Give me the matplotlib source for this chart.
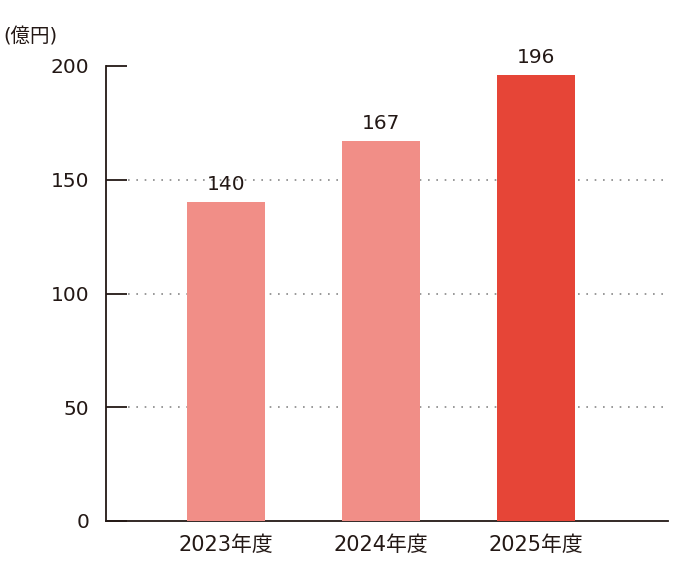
import matplotlib
matplotlib.use('Agg')
import matplotlib.pyplot as plt

# DejaVu for the wide digits, Noto CJK for the kanji
plt.rcParams['font.family'] = ['DejaVu Sans', 'Noto Sans CJK JP']

years = ['2023年度', '2024年度', '2025年度']
sales = [140, 167, 196]
bar_colors = ['#F18E87', '#F18E87', '#E64537']
yticks = [0, 50, 100, 150, 200]

text_color = '#231815'

fig = plt.figure(figsize=(6.74, 5.74), dpi=100)
ax = fig.add_axes([106 / 674, 1 - 521 / 574, 562 / 674, 455 / 574])

x = list(range(len(years)))
ax.bar(x, sales, width=0.5, color=bar_colors, zorder=3)

for xi, v in zip(x, sales):
    ax.annotate(str(v), (xi, v), xytext=(0, 6), textcoords='offset points',
                ha='center', va='bottom', fontsize=14.5, color=text_color)

# dotted grid at 50/100/150, not at the top
for yv in yticks[1:-1]:
    ax.plot([-0.63, 2.852], [yv, yv], linestyle=(0, (1, 4)), color='#888888',
            linewidth=1.2, zorder=1)

ax.set_xlim(-0.774, 2.852)
ax.set_ylim(0, 200)
ax.set_xticks(x)
ax.set_xticklabels(years)
ax.set_yticks(yticks)

ax.spines['top'].set_visible(False)
ax.spines['right'].set_visible(False)
ax.spines['left'].set_color(text_color)
ax.spines['bottom'].set_color(text_color)
ax.spines['left'].set_linewidth(1.3)
ax.spines['bottom'].set_linewidth(1.3)

ax.tick_params(axis='y', direction='in', length=15, width=1.3, color=text_color,
               labelsize=14.5, labelcolor=text_color, pad=12)
ax.tick_params(axis='x', length=0, labelsize=15, labelcolor=text_color, pad=10)

fig.text(3 / 674, 1 - 37 / 574, '(億円)', fontsize=14, color=text_color,
         ha='left', va='center')

fig.savefig('out.png', dpi=100)
